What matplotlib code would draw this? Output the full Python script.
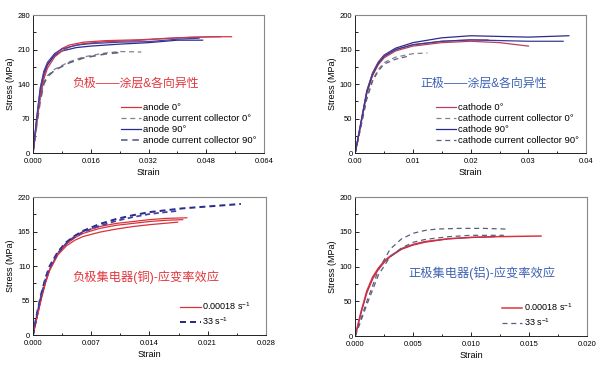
import matplotlib
matplotlib.use("Agg")
import matplotlib.pyplot as plt
from matplotlib.ticker import AutoMinorLocator

plt.rcParams["font.family"] = ["Liberation Sans", "Noto Sans CJK SC", "DejaVu Sans"]
plt.rcParams["mathtext.fontset"] = "custom"
plt.rcParams["mathtext.rm"] = "Liberation Sans"
plt.rcParams["mathtext.default"] = "regular"

RED = "#d8333c"
PINK = "#b84060"
NAVY = "#2b2b8c"
GRAYD = "#5a5f7a"
TXT_RED = "#e2373d"
TXT_BLUE = "#3f63b3"

# --- panel 1: anode, coating & anisotropy (strain, MPa) ---
an0_a_x = [0, 0.001, 0.002, 0.003, 0.004, 0.006, 0.008, 0.010, 0.014, 0.020, 0.030, 0.040, 0.050, 0.055]
an0_a_y = [0, 60, 118, 155, 178, 200, 212, 219, 225, 228, 230, 234, 236, 236]
an0_b_x = [0, 0.001, 0.002, 0.003, 0.004, 0.006, 0.008, 0.010, 0.014, 0.020, 0.028, 0.036, 0.044, 0.052]
an0_b_y = [0, 58, 115, 150, 172, 195, 207, 215, 222, 226, 228, 232, 235, 236]
an90_a_x = [0, 0.001, 0.002, 0.003, 0.004, 0.006, 0.008, 0.012, 0.016, 0.024, 0.032, 0.040, 0.047]
an90_a_y = [0, 68, 128, 162, 180, 198, 207, 214, 217, 221, 224, 229, 229]
an90_b_x = [0, 0.001, 0.002, 0.003, 0.004, 0.006, 0.008, 0.012, 0.016, 0.024, 0.032, 0.040, 0.046]
an90_b_y = [0, 70, 132, 166, 184, 202, 211, 219, 222, 225, 226, 231, 233]
anc0_x = [0, 0.001, 0.002, 0.003, 0.004, 0.006, 0.010, 0.014, 0.020, 0.024, 0.030]
anc0_y = [0, 60, 110, 143, 157, 170, 185, 195, 203, 206, 205]
anc90_x = [0, 0.001, 0.002, 0.003, 0.004, 0.006, 0.010, 0.014, 0.020, 0.024]
anc90_y = [0, 55, 105, 140, 155, 168, 183, 193, 201, 204]

# --- panel 2: cathode, coating & anisotropy ---
ca0_a_x = [0, 0.001, 0.002, 0.003, 0.004, 0.005, 0.007, 0.010, 0.015, 0.020, 0.025, 0.030]
ca0_a_y = [0, 42, 86, 112, 128, 138, 148, 155, 160, 162, 160, 155]
ca0_b_x = [0, 0.001, 0.002, 0.003, 0.004, 0.005, 0.007, 0.010, 0.015, 0.020, 0.023]
ca0_b_y = [0, 44, 88, 115, 131, 141, 150, 157, 162, 164, 164]
ca90_a_x = [0, 0.001, 0.002, 0.003, 0.004, 0.005, 0.007, 0.010, 0.015, 0.020, 0.025, 0.030, 0.037]
ca90_a_y = [0, 45, 90, 116, 132, 142, 152, 160, 167, 170, 169, 168, 170]
ca90_b_x = [0, 0.001, 0.002, 0.003, 0.004, 0.005, 0.007, 0.010, 0.015, 0.020, 0.025, 0.030, 0.036]
ca90_b_y = [0, 44, 88, 114, 130, 140, 150, 157, 162, 164, 163, 162, 162]
cac0_x = [0, 0.001, 0.002, 0.003, 0.004, 0.005, 0.007, 0.010, 0.0125]
cac0_y = [0, 40, 80, 106, 121, 131, 139, 144, 145]
cac90_x = [0, 0.001, 0.002, 0.003, 0.004, 0.005, 0.007, 0.009]
cac90_y = [0, 38, 78, 104, 119, 129, 136, 140]

# --- panel 3: anode collector (Cu), strain-rate effect ---
cu_slow_a_x = [0, 0.0005, 0.001, 0.0015, 0.002, 0.003, 0.004, 0.005, 0.006, 0.008, 0.010, 0.012, 0.014, 0.016, 0.0185]
cu_slow_a_y = [0, 30, 60, 85, 105, 131, 147, 158, 165, 173, 178, 181, 184, 186, 187]
cu_slow_b_x = [0, 0.0005, 0.001, 0.0015, 0.002, 0.003, 0.004, 0.005, 0.006, 0.008, 0.010, 0.012, 0.014, 0.016, 0.018]
cu_slow_b_y = [0, 30, 59, 84, 104, 130, 145, 155, 162, 170, 175, 178, 181, 183, 184]
cu_slow_c_x = [0, 0.0005, 0.001, 0.0015, 0.002, 0.003, 0.004, 0.005, 0.006, 0.008, 0.010, 0.012, 0.014, 0.0174]
cu_slow_c_y = [0, 29, 58, 83, 103, 128, 142, 151, 157, 164, 169, 173, 176, 180]
cu_fast_a_x = [0, 0.0005, 0.001, 0.0015, 0.002, 0.003, 0.004, 0.005, 0.006, 0.008, 0.010, 0.012, 0.014, 0.016, 0.018, 0.020, 0.022, 0.025]
cu_fast_a_y = [0, 36, 66, 91, 110, 133, 148, 158, 166, 177, 185, 191, 196, 199, 202, 204, 206, 209]
cu_fast_b_x = [0, 0.0005, 0.001, 0.0015, 0.002, 0.003, 0.004, 0.005, 0.006, 0.008, 0.010, 0.012, 0.014, 0.016, 0.0175]
cu_fast_b_y = [0, 34, 64, 89, 108, 131, 146, 156, 164, 174, 182, 188, 193, 196, 198]

# --- panel 4: cathode collector (Al), strain-rate effect ---
al_slow_a_x = [0, 0.0005, 0.001, 0.0015, 0.002, 0.0025, 0.003, 0.004, 0.005, 0.006, 0.008, 0.010, 0.012, 0.016]
al_slow_a_y = [0, 35, 65, 85, 98, 108, 115, 126, 132, 136, 140, 142, 143, 144]
al_slow_b_x = [0, 0.0005, 0.001, 0.0015, 0.002, 0.0025, 0.003, 0.004, 0.005, 0.006, 0.008, 0.010, 0.012]
al_slow_b_y = [0, 33, 62, 82, 96, 106, 114, 125, 131, 135, 140, 142, 143]
al_fast_a_x = [0, 0.001, 0.002, 0.003, 0.004, 0.005, 0.006, 0.007, 0.009, 0.011, 0.013]
al_fast_a_y = [0, 50, 95, 125, 140, 148, 152, 154, 155, 155, 154]
al_fast_b_x = [0, 0.001, 0.002, 0.003, 0.004, 0.005, 0.006, 0.008, 0.010, 0.0128]
al_fast_b_y = [0, 45, 88, 114, 127, 135, 139, 143, 145, 145]

rate_labels = ["0.00018 s$^{-1}$", "33 s$^{-1}$"]


def style_axis(ax, xlim, xticks, xlabels, ylim, yticks):
    ax.set_xlim(*xlim)
    ax.set_ylim(*ylim)
    ax.set_xticks(xticks)
    ax.set_xticklabels(xlabels)
    ax.set_yticks(yticks)
    ax.xaxis.set_minor_locator(AutoMinorLocator(2))
    ax.yaxis.set_minor_locator(AutoMinorLocator(2))
    ax.tick_params(which="both", direction="in", labelsize=5.5)
    ax.tick_params(axis="x", pad=3.5)
    ax.tick_params(axis="y", pad=2)
    ax.tick_params(which="major", length=3, width=0.6)
    ax.tick_params(which="minor", length=1.8, width=0.6)
    ax.set_xlabel("Strain", fontsize=6.5, labelpad=2)
    ax.set_ylabel("Stress (MPa)", fontsize=6.5, labelpad=2)
    for s in ("left", "bottom"):
        ax.spines[s].set_color("#222222")
        ax.spines[s].set_linewidth(0.7)
    for s in ("top", "right"):
        ax.spines[s].set_color("#888888")
        ax.spines[s].set_linewidth(0.8)


fig = plt.figure(figsize=(6, 3.67), dpi=100)
ax1 = fig.add_axes([0.055, 0.583, 0.385, 0.376])
ax2 = fig.add_axes([0.592, 0.583, 0.385, 0.376])
ax3 = fig.add_axes([0.055, 0.087, 0.388, 0.376])
ax4 = fig.add_axes([0.592, 0.084, 0.387, 0.379])

lw = 0.9
dash = (0, (4, 3))
leg_top = dict(loc="lower right", bbox_to_anchor=(1.0, 0.0), frameon=False, fontsize=6.8,
               handlelength=2.1, handletextpad=0.2, labelspacing=0.22, borderaxespad=0.4)
leg_bot = dict(loc="lower right", bbox_to_anchor=(0.97, 0.0), frameon=False, fontsize=6.5,
               handlelength=2.3, handletextpad=0.15, labelspacing=0.35)

# panel 1
ax1.plot(an0_a_x, an0_a_y, color=RED, lw=lw, label="anode 0°")
ax1.plot(anc0_x, anc0_y, color="#8a7d90", lw=lw, ls=dash, label="anode current collector 0°")
ax1.plot(an90_a_x, an90_a_y, color=NAVY, lw=lw, label="anode 90°")
ax1.plot(anc90_x, anc90_y, color=GRAYD, lw=lw * 1.3, ls=dash, label="anode current collector 90°")
ax1.plot(an0_b_x, an0_b_y, color=PINK, lw=lw)
ax1.plot(an90_b_x, an90_b_y, color="#4a3fa0", lw=lw)
style_axis(ax1, (0, 0.064), [0, 0.016, 0.032, 0.048, 0.064],
           ["0.000", "0.016", "0.032", "0.048", "0.064"], (0, 280), [0, 70, 140, 210, 280])
ax1.legend(**leg_top)
ax1.text(0.17, 0.5, "负极——涂层&各向异性", transform=ax1.transAxes, color=TXT_RED,
         fontsize=8.6, va="center", ha="left")

# panel 2
ax2.plot(ca0_a_x, ca0_a_y, color=PINK, lw=lw, label="cathode 0°")
ax2.plot(cac0_x, cac0_y, color="#8a7d90", lw=lw, ls=dash, label="cathode current collector 0°")
ax2.plot(ca90_a_x, ca90_a_y, color=NAVY, lw=lw, label="cathode 90°")
ax2.plot(cac90_x, cac90_y, color=GRAYD, lw=lw, ls=dash, label="cathode current collector 90°")
ax2.plot(ca0_b_x, ca0_b_y, color="#c04a6a", lw=lw)
ax2.plot(ca90_b_x, ca90_b_y, color="#3a3a90", lw=lw)
style_axis(ax2, (0, 0.04), [0, 0.01, 0.02, 0.03, 0.04],
           ["0.00", "0.01", "0.02", "0.03", "0.04"], (0, 200), [0, 50, 100, 150, 200])
ax2.legend(**leg_top)
ax2.text(0.28, 0.5, "正极——涂层&各向异性", transform=ax2.transAxes, color=TXT_BLUE,
         fontsize=8.6, va="center", ha="left")

# panel 3
ax3.plot(cu_slow_a_x, cu_slow_a_y, color=RED, lw=lw, label=rate_labels[0])
ax3.plot(cu_fast_a_x, cu_fast_a_y, color=NAVY, lw=lw * 1.6, ls=(0, (3, 2)), label=rate_labels[1])
ax3.plot(cu_slow_b_x, cu_slow_b_y, color=RED, lw=lw)
ax3.plot(cu_slow_c_x, cu_slow_c_y, color=RED, lw=lw)
ax3.plot(cu_fast_b_x, cu_fast_b_y, color="#4040a8", lw=lw * 1.4, ls=(0, (3, 2)))
style_axis(ax3, (0, 0.028), [0, 0.007, 0.014, 0.021, 0.028],
           ["0.000", "0.007", "0.014", "0.021", "0.028"], (0, 220), [0, 55, 110, 165, 220])
ax3.legend(**leg_bot)
ax3.text(0.17, 0.42, "负极集电器(铜)-应变率效应", transform=ax3.transAxes, color=TXT_RED,
         fontsize=8.8, va="center", ha="left")

# panel 4
ax4.plot(al_slow_a_x, al_slow_a_y, color=RED, lw=lw * 1.2, label=rate_labels[0])
ax4.plot(al_fast_a_x, al_fast_a_y, color=GRAYD, lw=lw, ls=dash, label=rate_labels[1])
ax4.plot(al_slow_b_x, al_slow_b_y, color="#c03050", lw=lw)
ax4.plot(al_fast_b_x, al_fast_b_y, color=GRAYD, lw=lw, ls=dash)
style_axis(ax4, (0, 0.020), [0, 0.005, 0.010, 0.015, 0.020],
           ["0.000", "0.005", "0.010", "0.015", "0.020"], (0, 200), [0, 50, 100, 150, 200])
ax4.legend(**leg_bot)
ax4.text(0.23, 0.45, "正极集电器(铝)-应变率效应", transform=ax4.transAxes, color=TXT_BLUE,
         fontsize=8.8, va="center", ha="left")

fig.savefig("out.png", dpi=100)
